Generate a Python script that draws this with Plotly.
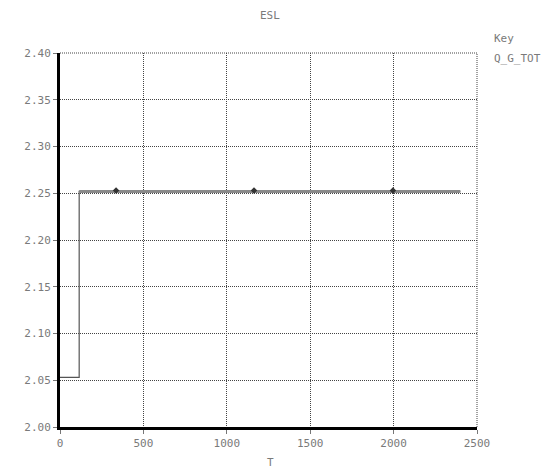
import plotly.graph_objects as go

# Data
T = [0, 115, 115, 2400]
Q_G_TOT = [2.053, 2.053, 2.252, 2.252]
T_upper = [115, 2400]
Q_upper = [2.252, 2.252]
T_markers = [336, 1163, 1996]
Q_markers = [2.253, 2.253, 2.253]

x_ticks = [0, 500, 1000, 1500, 2000, 2500]
y_ticks = [2.00, 2.05, 2.10, 2.15, 2.20, 2.25, 2.30, 2.35, 2.40]
y_labels = ["2.00", "2.05", "2.10", "2.15", "2.20", "2.25", "2.30", "2.35", "2.40"]

font = dict(family="DejaVu Sans Mono", size=11, color="#7a7a7a")
grid_dash = "1px,1px"

ML, MR, MT, MB = 60, 76, 53, 43
W, H = 553, 470
pw = W - ML - MR
ph = H - MT - MB

fig = go.Figure()
fig.add_trace(go.Scatter(x=T, y=Q_G_TOT, mode="lines",
                         line=dict(color="#555555", width=1.2), showlegend=False))
fig.add_trace(go.Scatter(x=T_upper, y=Q_upper, mode="lines",
                         line=dict(color="#8a8a8a", width=3), showlegend=False))
fig.add_trace(go.Scatter(x=T_markers, y=Q_markers, mode="markers",
                         marker=dict(symbol="diamond", size=5, color="#333333"),
                         showlegend=False))

fig.update_layout(
    width=W, height=H,
    margin=dict(l=ML, r=MR, t=MT, b=MB),
    paper_bgcolor="white", plot_bgcolor="white",
    font=font,
    xaxis=dict(range=[0, 2500], tickvals=x_ticks, ticktext=[str(v) for v in x_ticks],
               showgrid=True, gridcolor="#444444", griddash=grid_dash, gridwidth=1,
               showline=True, linecolor="black", linewidth=3, mirror=False,
               ticks="outside", ticklen=4, tickcolor="#777777",
               zeroline=False, tickfont=font),
    yaxis=dict(range=[2.0, 2.4], tickvals=y_ticks, ticktext=y_labels,
               showgrid=True, gridcolor="#444444", griddash=grid_dash, gridwidth=1,
               showline=True, linecolor="black", linewidth=3,
               ticks="outside", ticklen=4, tickcolor="#777777",
               zeroline=False, tickfont=font),
)

def add_text(txt, px, py, anchor):
    fig.add_annotation(text=txt, x=(px - ML) / pw, y=1 - (py - MT) / ph,
                       xref="paper", yref="paper", xanchor=anchor, yanchor="middle",
                       showarrow=False, font=font)

add_text("ESL", 270, 15, "center")
add_text("T", 270, 462, "center")
add_text("Key", 492, 38, "left")
add_text("Q_G_TOT", 492, 58, "left")

# Dotted top and right borders
fig.add_shape(type="line", xref="paper", yref="paper", x0=0, x1=1, y0=1, y1=1,
              line=dict(color="#444444", width=1, dash=grid_dash))
fig.add_shape(type="line", xref="paper", yref="paper", x0=1, x1=1, y0=0, y1=1,
              line=dict(color="#444444", width=1, dash=grid_dash))

fig.write_html("out.html", config={"displayModeBar": False},
               post_script="document.body.style.margin='0';document.body.style.overflow='hidden';")
